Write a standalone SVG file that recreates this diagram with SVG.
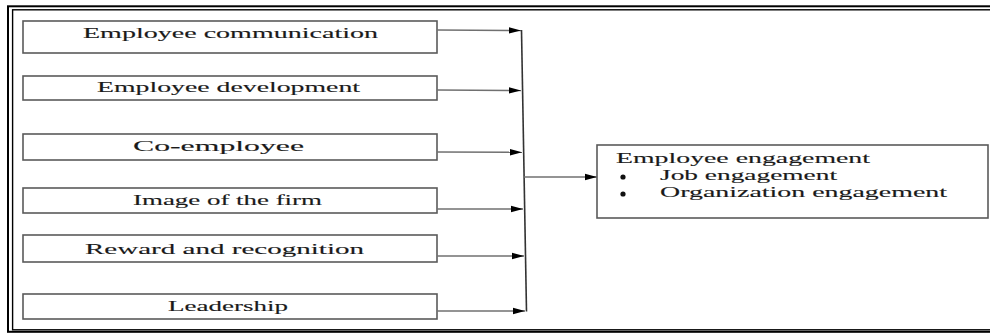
<svg xmlns="http://www.w3.org/2000/svg" width="990" height="333" viewBox="0 0 990 333">
<defs>
<style>
.box{fill:#fff;stroke:#5a5a5a;stroke-width:1.6}
.lbl{font-family:"Liberation Serif","Times New Roman",serif;font-size:14px;fill:#1a1a1a;stroke:#1a1a1a;stroke-width:0.12;text-anchor:middle}
.txt{font-family:"Liberation Serif","Times New Roman",serif;font-size:14px;fill:#1a1a1a;stroke:#1a1a1a;stroke-width:0.12}
.con{stroke:#707070;stroke-width:1.4;fill:none}
.frame{fill:none;stroke:#000}
</style>
<marker id="ah" markerWidth="12" markerHeight="8" refX="12" refY="4" orient="auto" markerUnits="userSpaceOnUse">
<path d="M0,0.8 L12,4 L0,7.2 Z" fill="#000"/>
</marker>
</defs>
<rect width="990" height="333" fill="#fff"/>
<g id="frame">
<rect class="frame" x="8" y="6.3" width="1000" height="325.5" stroke-width="2"/>
<rect class="frame" x="12.6" y="9.8" width="1000" height="320" stroke-width="1.4"/>
</g>
<g id="n1"><rect class="box" x="23" y="21" width="414" height="32"/><text class="lbl" x="230.5" y="38" textLength="295" lengthAdjust="spacingAndGlyphs">Employee communication</text></g>
<g id="n2"><rect class="box" x="23" y="76" width="414" height="24"/><text class="lbl" x="228.5" y="92" textLength="263" lengthAdjust="spacingAndGlyphs">Employee development</text></g>
<g id="n3"><rect class="box" x="23" y="134" width="414" height="26"/><text class="lbl" x="218.5" y="151" textLength="171" lengthAdjust="spacingAndGlyphs">Co-employee</text></g>
<g id="n4"><rect class="box" x="23" y="188" width="414" height="25"/><text class="lbl" x="227.5" y="205" textLength="189" lengthAdjust="spacingAndGlyphs">Image of the firm</text></g>
<g id="n5"><rect class="box" x="23" y="235" width="414" height="27"/><text class="lbl" x="224.5" y="254" textLength="279" lengthAdjust="spacingAndGlyphs">Reward and recognition</text></g>
<g id="n6"><rect class="box" x="23" y="294" width="414" height="25"/><text class="lbl" x="228" y="311" textLength="120" lengthAdjust="spacingAndGlyphs">Leadership</text></g>
<g id="out">
<rect class="box" x="597" y="145" width="391" height="73"/>
<text class="txt" x="616" y="162.5" textLength="254" lengthAdjust="spacingAndGlyphs">Employee engagement</text>
<circle cx="623" cy="177" r="2.6" fill="#111"/>
<text class="txt" x="660" y="180" textLength="177" lengthAdjust="spacingAndGlyphs">Job engagement</text>
<circle cx="623" cy="194" r="2.6" fill="#111"/>
<text class="txt" x="660" y="197" textLength="287" lengthAdjust="spacingAndGlyphs">Organization engagement</text>
</g>
<g id="connectors">
<line class="con" x1="437" y1="30" x2="521" y2="30.5" marker-end="url(#ah)"/>
<line class="con" x1="437" y1="90" x2="521" y2="90.5" marker-end="url(#ah)"/>
<line class="con" x1="437" y1="152" x2="522" y2="152.3" marker-end="url(#ah)"/>
<line class="con" x1="437" y1="209" x2="523" y2="209" marker-end="url(#ah)"/>
<line class="con" x1="437" y1="256" x2="524" y2="256" marker-end="url(#ah)"/>
<line class="con" x1="437" y1="311" x2="525" y2="311" marker-end="url(#ah)"/>
<line x1="521.5" y1="30" x2="526.5" y2="311.5" stroke="#333" stroke-width="1.6"/>
<line class="con" x1="523" y1="177" x2="597" y2="177" marker-end="url(#ah)"/>
</g>
</svg>
